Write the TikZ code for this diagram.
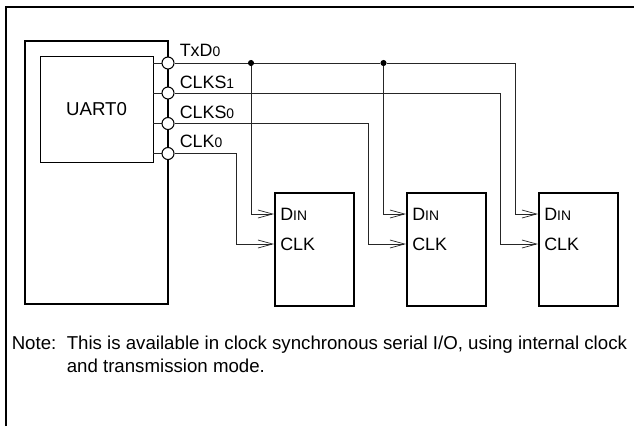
\documentclass[tikz,border=0pt]{standalone}
\usepackage{fontspec}
\setmainfont{Liberation Sans}
\usetikzlibrary{arrows.meta}
\tikzset{
  x=0.75pt,y=-0.75pt,
  thick box/.style={draw=black,line width=1.5pt,fill=none,inner sep=0pt,minimum width=0pt},
  wire/.style={draw=black!85,line width=0.75pt},
  inwire/.style={wire,-{Straight Barb[length=11pt,width=6pt,line width=0.55pt]}},
  pin/.style={circle,draw=black,fill=white,line width=0.8pt,minimum size=9pt,inner sep=0pt},
  dot/.style={circle,fill=black,minimum size=4.6pt,inner sep=0pt},
  lbl/.style={font=\fontsize{13.4pt}{15pt}\selectfont,inner sep=0pt,anchor=base west},
  notelbl/.style={font=\fontsize{14pt}{16pt}\selectfont,inner sep=0pt,anchor=base west},
}
\newcommand{\sm}[1]{{\fontsize{10.4pt}{12pt}\selectfont #1}}
\begin{document}
\begin{tikzpicture}
\useasboundingbox (0,0) rectangle (634,426);
% outer frame
\draw[line width=1.5pt] (5.5,426) -- (5.5,6.5) -- (634,6.5);
% chip
\coordinate (c1) at (25,41); \coordinate (c2) at (168,304);
\draw[thick box,line width=1.5pt] (c1) rectangle (c2);
\node[draw,line width=0.75pt,minimum width=85pt,minimum height=79.5pt,inner sep=0pt,anchor=north west] (uart) at (39.5,55.5) {};
\node[notelbl,anchor=base] at (96.5,115) {UART0};
% pins
\foreach \n/\y in {p1/63,p2/93,p3/123.5,p4/153.5}{
  \coordinate (\n i) at (153,\y);
  \draw[wire] (\n i) -- (168,\y);
  \node[pin] (\n) at (168,\y) {};
}
\node[lbl] at (179.5,56.7) {TxD\sm{0}};
\node[lbl] at (179.5,88) {CLKS\sm{1}};
\node[lbl] at (179.5,118) {CLKS\sm{0}};
\node[lbl] at (179.5,147.5) {CLK\sm{0}};
% receivers
\foreach \n/\x in {a/274,b/406,c/538}{
  \node[draw,line width=1.5pt,minimum width=59.6pt,minimum height=85.2pt,inner sep=0pt,anchor=north west] (\n) at (\x,191.5) {};
  \coordinate (\n d) at (\x,214);
  \coordinate (\n k) at (\x,244);
  \node[lbl] at (\x+6,220.7) {D\sm{IN}};
  \node[lbl] at (\x+6,250.7) {CLK};
}
% junctions
\node[dot] (j1) at (251,63) {};
\node[dot] (j2) at (383.5,63) {};
% wires
\draw[wire] (p1) -- (j1) -- (j2);
\draw[inwire] (j2) -- (515.7,63) -- (515.7,214) -- (cd);
\draw[inwire] (j1) -- (251,214) -- (ad);
\draw[inwire] (j2) -- (383.5,214) -- (bd);
\draw[inwire] (p2) -- (500.7,93) -- (500.7,244) -- (ck);
\draw[inwire] (p3) -- (368.5,123.5) -- (368.5,244) -- (bk);
\draw[inwire] (p4) -- (236,153.5) -- (236,244) -- (ak);
% note
\node[notelbl] at (11.5,349) {Note:};
\node[notelbl] at (66.5,349) {This is available in clock synchronous serial I/O, using internal clock};
\node[notelbl] at (66.5,372) {and transmission mode.};
\end{tikzpicture}
\end{document}
